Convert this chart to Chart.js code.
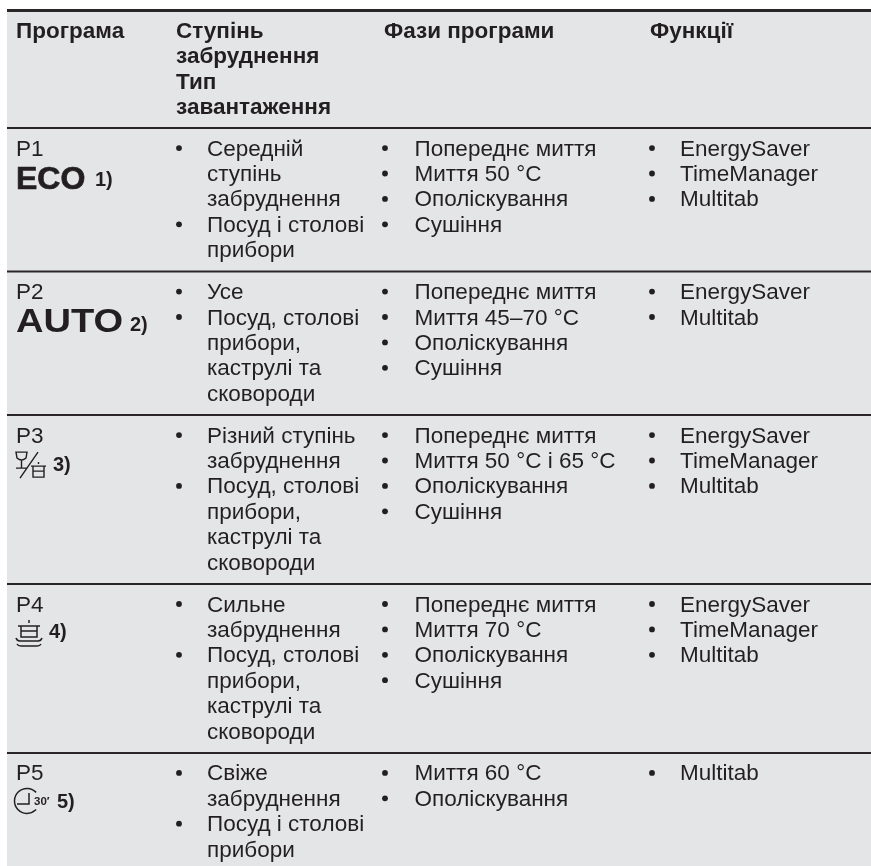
<!DOCTYPE html>
<html>
<head>
<meta charset="utf-8">
<style>
  html, body { margin: 0; padding: 0; background: #fff; }
  #chart { display: block; }
</style>
<script src="https://cdn.jsdelivr.net/npm/chart.js@4"></script>
</head>
<body>
<canvas id="chart" width="871" height="866"></canvas>
<script>
// table content
const columnTitles = [
  ['Програма'],
  ['Ступінь', 'забруднення', 'Тип', 'завантаження'],
  ['Фази програми'],
  ['Функції']
];
const programNames = ['P1', 'P2', 'P3', 'P4', 'P5'];
const programNotes = ['1)', '2)', '3)', '4)', '5)'];
const soilLevels = [
  [['Середній', 'ступінь', 'забруднення'], ['Посуд і столові', 'прибори']],
  [['Усе'], ['Посуд, столові', 'прибори,', 'каструлі та', 'сковороди']],
  [['Різний ступінь', 'забруднення'], ['Посуд, столові', 'прибори,', 'каструлі та', 'сковороди']],
  [['Сильне', 'забруднення'], ['Посуд, столові', 'прибори,', 'каструлі та', 'сковороди']],
  [['Свіже', 'забруднення'], ['Посуд і столові', 'прибори']]
];
const phases = [
  ['Попереднє миття', 'Миття 50 °C', 'Ополіскування', 'Сушіння'],
  ['Попереднє миття', 'Миття 45–70 °C', 'Ополіскування', 'Сушіння'],
  ['Попереднє миття', 'Миття 50 °C і 65 °C', 'Ополіскування', 'Сушіння'],
  ['Попереднє миття', 'Миття 70 °C', 'Ополіскування', 'Сушіння'],
  ['Миття 60 °C', 'Ополіскування']
];
const functions = [
  ['EnergySaver', 'TimeManager', 'Multitab'],
  ['EnergySaver', 'Multitab'],
  ['EnergySaver', 'TimeManager', 'Multitab'],
  ['EnergySaver', 'TimeManager', 'Multitab'],
  ['Multitab']
];

// layout, all in scale units (the scales run 1:1 with the page)
const W = 871, H = 866;
const INK = '#231f20', SHADE = '#e4e5e7';
const FONT = '"Liberation Sans", Arial, sans-serif';
const PITCH = 25.4, PAD = 16.5, TOP = 10.5, LEFT = 7;
const FIRST_BASE = 27.5;
const colX = [16, 176, 384, 650];
const bulletX = [0, 179, 385, 652];
const textX = [0, 207, 414.5, 680];

// row boundaries follow from how many text lines each row holds
function lineCount(cell) { return cell.reduce((n, b) => n + (Array.isArray(b) ? b.length : 1), 0); }
const rowTops = [TOP + 4 * PITCH + 16];
soilLevels.forEach((cell, i) => {
  const n = Math.max(lineCount(cell), lineCount(phases[i]), lineCount(functions[i]));
  rowTops.push(rowTops[i] + n * PITCH + PAD);
});

// bullets as scatter points
const bulletPoints = [];
const textRuns = [];
soilLevels.forEach((cell, r) => {
  let ln = 0;
  cell.forEach(item => {
    bulletPoints.push({ x: bulletX[1], y: rowTops[r] + FIRST_BASE + ln * PITCH - 7.5 });
    item.forEach(t => { textRuns.push({ t, x: textX[1], y: rowTops[r] + FIRST_BASE + ln * PITCH }); ln++; });
  });
});
[[phases, 2], [functions, 3]].forEach(([list, c]) => {
  list.forEach((cell, r) => {
    cell.forEach((t, ln) => {
      bulletPoints.push({ x: bulletX[c], y: rowTops[r] + FIRST_BASE + ln * PITCH - 7.5 });
      textRuns.push({ t, x: textX[c], y: rowTops[r] + FIRST_BASE + ln * PITCH });
    });
  });
});

function rule(y, w) {
  return { type: 'line', data: [{ x: LEFT, y }, { x: W, y }], borderColor: '#2a2627', borderWidth: w, pointRadius: 0, clip: false };
}

function drawGlassPot(ctx, x, y) {
  ctx.lineWidth = 1.4;
  ctx.beginPath();
  ctx.moveTo(x + 1, y); ctx.lineTo(x + 12, y);
  ctx.lineTo(x + 11, y + 6); ctx.quadraticCurveTo(x + 6.5, y + 10, x + 2, y + 6); ctx.closePath();
  ctx.moveTo(x + 6.5, y + 8); ctx.lineTo(x + 6.5, y + 16);
  ctx.moveTo(x + 1, y + 16); ctx.lineTo(x + 12, y + 16);
  ctx.moveTo(x + 5, y + 26); ctx.lineTo(x + 23, y);
  ctx.moveTo(x + 16, y + 14); ctx.lineTo(x + 31, y + 14);
  ctx.moveTo(x + 18, y + 14); ctx.lineTo(x + 18, y + 25); ctx.lineTo(x + 29, y + 25); ctx.lineTo(x + 29, y + 14);
  ctx.moveTo(x + 18, y + 19); ctx.lineTo(x + 29, y + 19);
  ctx.moveTo(x + 23.5, y + 10); ctx.lineTo(x + 23.5, y + 12);
  ctx.stroke();
}
function drawPotPlates(ctx, x, y) {
  ctx.lineWidth = 1.5;
  ctx.beginPath();
  ctx.moveTo(x + 13, y); ctx.lineTo(x + 13, y + 3);
  ctx.moveTo(x + 2, y + 6); ctx.lineTo(x + 24, y + 6);
  ctx.moveTo(x + 5, y + 6); ctx.lineTo(x + 5, y + 17); ctx.lineTo(x + 21, y + 17); ctx.lineTo(x + 21, y + 6);
  ctx.moveTo(x + 5, y + 11); ctx.lineTo(x + 21, y + 11);
  ctx.moveTo(x, y + 18); ctx.quadraticCurveTo(x + 1, y + 21, x + 4, y + 21); ctx.lineTo(x + 22, y + 21); ctx.quadraticCurveTo(x + 25, y + 21, x + 26, y + 18);
  ctx.moveTo(x + 1, y + 24); ctx.quadraticCurveTo(x + 2, y + 26, x + 5, y + 26); ctx.lineTo(x + 21, y + 26); ctx.quadraticCurveTo(x + 24, y + 26, x + 25, y + 24);
  ctx.stroke();
}
function drawClock(ctx, x, y) {
  ctx.lineWidth = 1.5;
  ctx.beginPath();
  ctx.arc(x, y, 12.5, -0.75, 0.75, true);
  ctx.moveTo(x + 2, y - 8); ctx.lineTo(x + 2, y + 3); ctx.lineTo(x - 10, y + 3);
  ctx.stroke();
  ctx.font = 'bold 11.5px ' + FONT;
  ctx.fillText('30′', x + 7, y + 4);
}

const tablePlugin = {
  id: 'tablePlugin',
  beforeDatasetsDraw(chart) {
    const { ctx, scales: { x, y } } = chart;
    ctx.save();
    ctx.fillStyle = SHADE;
    ctx.fillRect(x.getPixelForValue(LEFT), y.getPixelForValue(TOP), x.getPixelForValue(W) - x.getPixelForValue(LEFT), y.getPixelForValue(H) - y.getPixelForValue(TOP));
    ctx.restore();
  },
  afterDatasetsDraw(chart) {
    const { ctx, scales: { x, y } } = chart;
    const px = v => x.getPixelForValue(v), py = v => y.getPixelForValue(v);
    ctx.save();
    ctx.fillStyle = INK; ctx.strokeStyle = INK;
    ctx.textBaseline = 'alphabetic';

    // header
    ctx.font = 'bold 22.5px ' + FONT;
    columnTitles.forEach((lines, c) => {
      lines.forEach((t, i) => ctx.fillText(t, px(colX[c]), py(TOP + FIRST_BASE + i * PITCH)));
    });

    // body text
    ctx.font = '22.5px ' + FONT;
    textRuns.forEach(r => ctx.fillText(r.t, px(r.x), py(r.y)));
    programNames.forEach((t, r) => ctx.fillText(t, px(colX[0]), py(rowTops[r] + FIRST_BASE)));

    // program marks
    ctx.font = 'bold 32px ' + FONT;
    ctx.lineWidth = 0.7;
    ctx.fillText('ECO', px(16), py(rowTops[0] + 61));
    ctx.strokeText('ECO', px(16), py(rowTops[0] + 61));
    ctx.save();
    ctx.translate(px(16), py(rowTops[1] + 60));
    ctx.scale(1.12, 1);
    ctx.font = 'bold 34px ' + FONT;
    ctx.fillText('AUTO', 0, 0);
    ctx.restore();
    drawGlassPot(ctx, px(15), py(rowTops[2] + 37));
    drawPotPlates(ctx, px(16), py(rowTops[3] + 36));
    drawClock(ctx, px(27), py(rowTops[4] + 48));

    // footnote marks
    ctx.font = 'bold 20px ' + FONT;
    const noteX = [95, 130, 53, 49, 57], noteDy = [58, 59, 56, 54, 55];
    programNotes.forEach((t, r) => ctx.fillText(t, px(noteX[r]), py(rowTops[r] + noteDy[r])));
    ctx.restore();
  }
};

new Chart(document.getElementById('chart'), {
  type: 'scatter',
  data: {
    datasets: [
      { data: bulletPoints, pointRadius: 2.9, pointBackgroundColor: INK, pointBorderWidth: 0, showLine: false, clip: false },
      rule(TOP, 3),
      rule(rowTops[0], 2),
      rule(rowTops[1], 2),
      rule(rowTops[2], 2),
      rule(rowTops[3], 2),
      rule(rowTops[4], 2)
    ]
  },
  options: {
    responsive: false,
    animation: false,
    layout: { padding: 0, autoPadding: false },
    events: [],
    plugins: { legend: { display: false }, tooltip: { enabled: false } },
    scales: {
      x: { type: 'linear', min: 0, max: W, display: false },
      y: { type: 'linear', min: 0, max: H, reverse: true, display: false }
    }
  },
  plugins: [tablePlugin]
});
</script>
</body>
</html>
